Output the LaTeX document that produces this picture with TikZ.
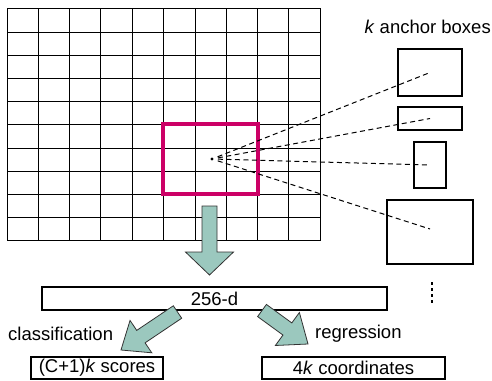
\documentclass[tikz,border=0pt]{standalone}
\usepackage{fontspec}
\setmainfont{Liberation Sans}
\usetikzlibrary{calc}
\definecolor{redbox}{RGB}{204,0,102}
\definecolor{arrowfill}{RGB}{155,200,190}
\newcommand{\fatarrow}[5]{%
  \coordinate (fah) at ($(#2)!#5!(#1)$);
  \filldraw[fatarrowstyle] ($(#1)!#3!90:(#2)$) -- ($(fah)!#3!90:(#2)$) -- ($(fah)!#4!90:(#2)$) -- (#2) -- ($(fah)!#4!-90:(#2)$) -- ($(fah)!#3!-90:(#2)$) -- ($(#1)!#3!-90:(#2)$) -- cycle;
}
\begin{document}
\begin{tikzpicture}[x=1pt,y=-1pt,
  gridline/.style={line width=1.6pt},
  plainbox/.style={draw, line width=1.2pt, inner sep=0pt},
  lbl/.style={font=\fontsize{18.5}{21}\selectfont, inner sep=0pt},
  dashline/.style={dash pattern=on 5pt off 3.5pt, line width=1pt},
  fatarrowstyle/.style={fill=arrowfill, draw=black!80, line width=0.8pt, line join=miter},
  ]
\useasboundingbox (0,0) rectangle (492,380);
% feature map grid
\foreach \x in {7.5,38.5,69.5,100.5,132.5,163.5,195.5,226.5,257.5,288.5,320.5} \draw[gridline] (\x,8) -- (\x,241);
\foreach \y in {8.5,32.5,55.5,78.5,101.5,124.5,148.5,171.5,194.5,217.5,240.5} \draw[gridline] (7,\y) -- (321,\y);
% sliding window
\node[draw=redbox, line width=3.3pt, minimum width=95pt, minimum height=70pt, inner sep=0pt] (win) at (210.5,159) {};
\coordinate (c) at (212,159);
\fill (c) circle (1.7pt);
% anchor boxes
\node[lbl, anchor=east] (ktitle) at (491,27) {\textit{k} anchor boxes};
\node[plainbox, minimum width=64pt, minimum height=47pt] (a1) at (430,72.5) {};
\node[plainbox, minimum width=64pt, minimum height=23pt] (a2) at (430,118.5) {};
\node[plainbox, minimum width=32pt, minimum height=46pt] (a3) at (430,165) {};
\node[plainbox, minimum width=86pt, minimum height=64pt] (a4) at (430,232) {};
\coordinate (e4) at (430,229);
\draw[dashline] ($(c)!6pt!(a1.center)$) -- (a1.center);
\draw[dashline] ($(c)!6pt!(a2.center)$) -- (a2.center);
\draw[dashline] ($(c)!6pt!(a3.center)$) -- (a3.center);
\draw[dashline] ($(c)!6pt!(e4)$) -- (e4);
% vertical dots
\coordinate (v1) at (432,282);
\coordinate (v2) at (432,304);
\draw[line width=1.6pt, dash pattern=on 3pt off 3pt] (v1) -- (v2);
% 256-d box
\node[plainbox, lbl, draw, minimum width=345pt, minimum height=23pt] (feat) at (214.5,298.5) {256-d};
% output boxes
\node[plainbox, lbl, draw, minimum width=132pt, minimum height=22pt] (cls) at (97,368) {(C+1)\textit{k} scores};
\node[plainbox, lbl, draw, minimum width=183pt, minimum height=22pt] (reg) at (353.5,368) {4\textit{k} coordinates};
\node[lbl, anchor=west] (clslbl) at (8,334) {classification};
\node[lbl, anchor=west] (reglbl) at (315,334) {regression};
% fat arrows
\coordinate (dtail) at (209.5,206);
\coordinate (dtip) at (209.5,275);
\fatarrow{dtail}{dtip}{7.5pt}{24pt}{23pt}
\coordinate (ltail) at (177.5,312);
\coordinate (ltip) at (121,350);
\fatarrow{ltail}{ltip}{7.5pt}{19.5pt}{24pt}
\coordinate (rtail) at (262,310.5);
\coordinate (rtip) at (308,344);
\fatarrow{rtail}{rtip}{7.5pt}{20.4pt}{25.5pt}
\end{tikzpicture}
\end{document}
